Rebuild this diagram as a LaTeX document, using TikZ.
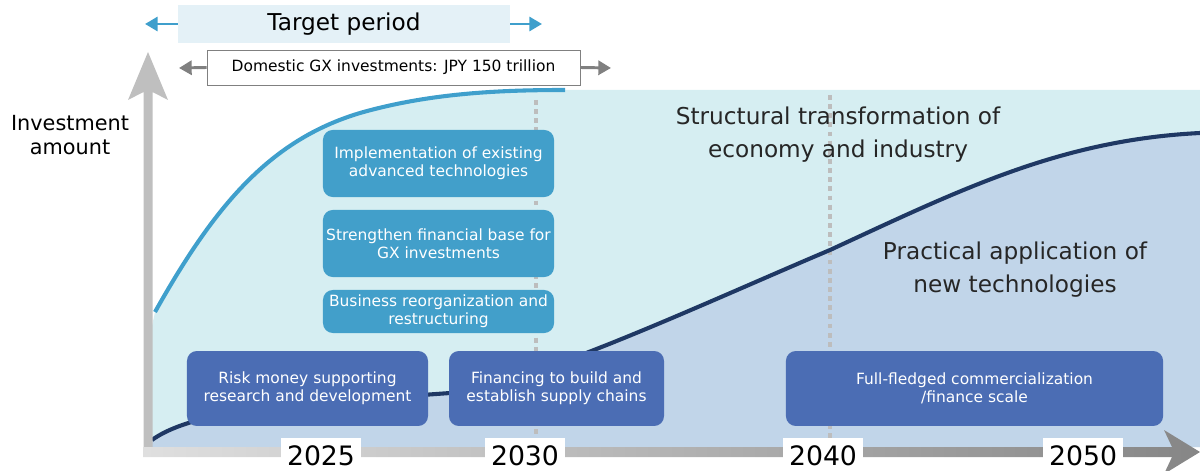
\documentclass[tikz,border=0pt]{standalone}
\usepackage{fontspec}
\setmainfont{DejaVu Sans}
\usetikzlibrary{arrows.meta}

\definecolor{areacyan}{HTML}{D6EEF2}
\definecolor{arealav}{HTML}{C1D5E9}
\definecolor{boxcyan}{HTML}{429FCA}
\definecolor{boxblue}{HTML}{4B6DB4}
\definecolor{lincyan}{HTML}{3F9FCC}
\definecolor{linnavy}{HTML}{1F3864}
\definecolor{targetbg}{HTML}{E4F1F7}
\definecolor{guidegray}{HTML}{BDBDBD}
\definecolor{axisgray}{HTML}{BFBFBF}
\definecolor{textgray}{HTML}{262626}

\begin{document}
\begin{tikzpicture}[x=0.025cm, y=-0.025cm,
  small/.style   = { font=\fontsize{11}{12.8}\selectfont },
  big/.style     = { font=\fontsize{16.5}{23.5}\selectfont, text=textgray, align=center },
  tealbox/.style = { small, fill=boxcyan, text=white, rounded corners=7pt,
                     align=center, inner sep=0pt, minimum width=164.3pt },
  bluebox/.style = { small, fill=boxblue, text=white, rounded corners=7pt,
                     align=center, inner sep=0pt, minimum height=53.3pt },
  year/.style    = { fill=white, font=\fontsize{19}{19}\selectfont, inner sep=0pt,
                     minimum width=57pt, minimum height=25.6pt },
  guide/.style   = { draw=guidegray, line width=2.8pt, dash pattern=on 3.5pt off 3pt },
  curve/.style   = { line width=2.9pt }]
  \useasboundingbox (0,0) rectangle (1200,471);

  % areas under the two curves
  \fill[areacyan] (152,326) -- (155,312) .. controls (215,205) and (270,140) .. (360,113)
    .. controls (430,93) and (500,90) .. (565,90) -- (1200,90) -- (1200,447) -- (152,447) -- cycle;
  \fill[arealav] (152,440) .. controls (200,405) and (330,402) .. (450,393)
    .. controls (530,385) and (700,305) .. (830,250)
    .. controls (960,190) and (1060,140) .. (1200,133) -- (1200,447) -- (152,447) -- cycle;

  % year guides
  \draw[guide] (536,100) -- (536,440);
  \draw[guide] (830,95) -- (830,440);

  % curves
  \draw[curve, lincyan] (155,312) .. controls (215,205) and (270,140) .. (360,113)
    .. controls (430,93) and (500,90) .. (565,90);
  \draw[curve, linnavy] (152,440) .. controls (200,405) and (330,402) .. (450,393)
    .. controls (530,385) and (700,305) .. (830,250)
    .. controls (960,190) and (1060,140) .. (1200,133);

  % axes
  \fill[axisgray] (143.5,452) -- (143.5,92) -- (128,100) -- (148,52) -- (168,100)
    -- (152.5,92) -- (152.5,452) -- cycle;
  \shade[left color=gray!25, right color=gray!95] (143,447) -- (1172,447) -- (1164,430)
    -- (1200,452) -- (1164,474) -- (1172,457) -- (143,457) -- cycle;

  \node[align=center, font=\fontsize{14.8}{17}\selectfont] (yname) at (70,135)
    {Investment\\amount};

  % target period
  \node[fill=targetbg, minimum width=236.2pt, minimum height=27pt,
        font=\fontsize{16.5}{18}\selectfont] (target) at (344,24) {Target period};
  \coordinate (tleft) at (145,24);
  \coordinate (tright) at (542,24);
  \draw[lincyan, line width=2.1pt, -{Triangle[length=9pt,width=10pt]}] (target.west) -- (tleft);
  \draw[lincyan, line width=2.1pt, -{Triangle[length=9pt,width=10pt]}] (target.east) -- (tright);

  \node[small, draw=gray, fill=white, minimum width=265.3pt, minimum height=24.9pt]
    (invest) at (393.5,67.5) {Domestic GX investments: JPY 150 trillion};
  \coordinate (ileft) at (179,68);
  \coordinate (iright) at (611,68);
  \draw[gray, line width=2.1pt, -{Triangle[length=9pt,width=10pt]}] (invest.west) -- (ileft);
  \draw[gray, line width=2.1pt, -{Triangle[length=9pt,width=10pt]}] (invest.east) -- (iright);

  % measures
  \node[tealbox, minimum height=47.7pt] (impl) at (438.5,163.5)
    {Implementation of existing\\advanced technologies};
  \node[tealbox, minimum height=47.7pt] (base) at (438.5,243.5)
    {Strengthen financial base for\\GX investments};
  \node[tealbox, minimum height=30.6pt] (reorg) at (438.5,311.5)
    {Business reorganization and\\restructuring};

  \node[bluebox, minimum width=171.4pt] (risk) at (307.5,388.5)
    {Risk money supporting\\research and development};
  \node[bluebox, minimum width=152.9pt] (supply) at (556.5,388.5)
    {Financing to build and\\establish supply chains};
  \node[bluebox, minimum width=268.2pt] (scale) at (974.5,388.5)
    {Full-fledged commercialization\\/finance scale};

  \node[big] (struct) at (838,135) {Structural transformation of\\economy and industry};
  \node[big] (newtech) at (1015,270) {Practical application of\\new technologies};

  % years
  \foreach \yr/\xx in {2025/321, 2030/525, 2040/823, 2050/1083}
    \node[year] (y\yr) at (\xx,456) {\yr};
\end{tikzpicture}
\end{document}
